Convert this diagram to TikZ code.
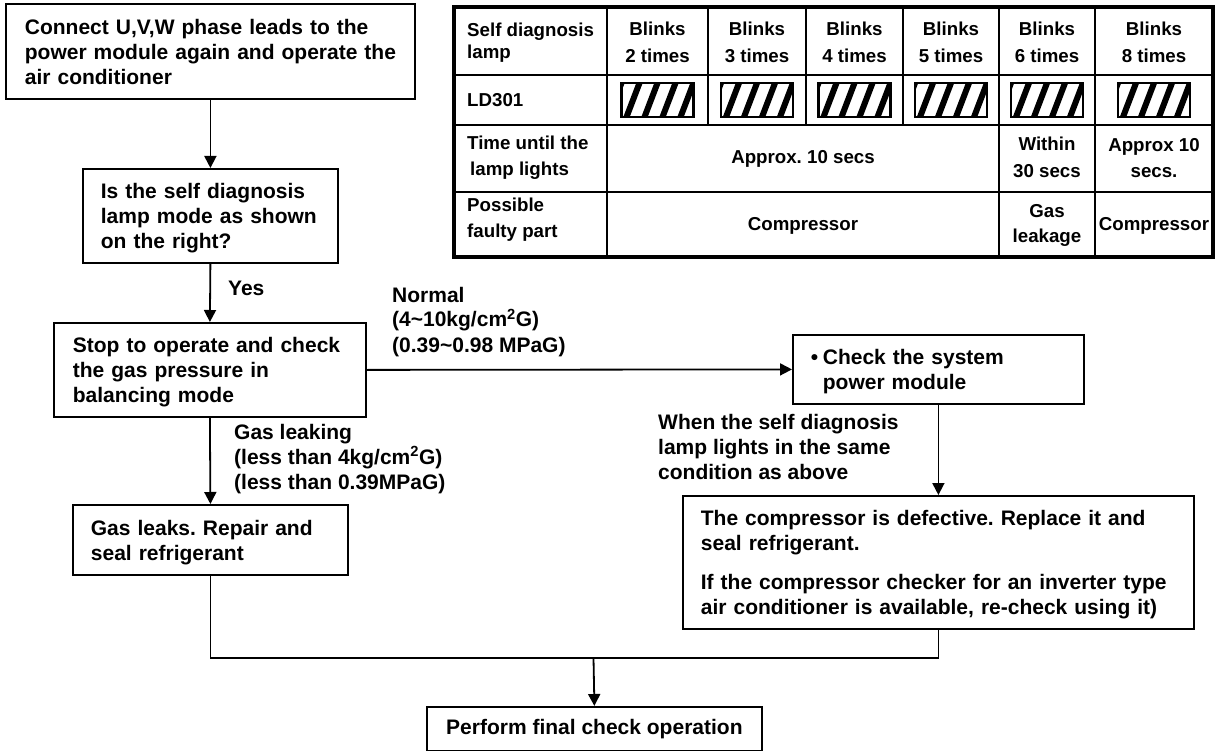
\documentclass[tikz,border=0pt]{standalone}
\usepackage{fontspec}
\setmainfont{Liberation Sans}
\usetikzlibrary{arrows.meta}
\frenchspacing
\newcommand\flowfont{\fontsize{21}{25}\selectfont\bfseries\frenchspacing}
\newcommand\tabfont{\fontsize{18.7}{24}\selectfont\bfseries\frenchspacing}
\newcommand\lines[1]{\begin{tabular}{@{}l@{}}\rule{0pt}{23.5pt}#1\end{tabular}}
\newcommand\hatchat[1]{%
  \begin{scope}
    \clip ({#1-36},83) rectangle ({#1+36},117);
    \foreach \i in {-1,...,4} \draw[line width=6pt] ({#1-36+5+18*\i},117) -- ({#1-36+5+18*\i+13},83);
  \end{scope}
  \draw[line width=2.5pt] ({#1-36},83) rectangle ({#1+36},117);
}
\begin{document}
\begin{tikzpicture}[x=1pt,y=-1pt,
  box/.style={draw, line width=1.8pt, fill=white, font=\flowfont, align=left, anchor=north west, inner ysep=0pt},
  lbl/.style={font=\flowfont, align=left, anchor=base west, inner sep=0pt},
  tcell/.style={font=\tabfont, align=center, anchor=base, inner sep=0pt},
  tleft/.style={font=\tabfont, align=left, anchor=base west, inner sep=0pt},
  arr/.style={line width=1.8pt, -{Triangle[length=12pt,width=12pt]}},
  ln/.style={line width=1.8pt}]
\useasboundingbox (0,0) rectangle (1215,751);

% ---------- flow boxes ----------
\node[box, inner xsep=19pt, text width=371pt, minimum height=95pt] (b1) at (5,3)
  {\lines{Connect U,V,W phase leads to the\\power module again and operate the\\air conditioner}};
\node[box, inner xsep=18pt, text width=219pt, minimum height=94pt] (b2) at (82,168)
  {\lines{Is the self diagnosis\\lamp mode as shown\\on the right?}};
\node[box, inner xsep=19pt, text width=274pt, minimum height=94pt] (b3) at (53,322)
  {\lines{Stop to operate and check\\the gas pressure in\\balancing mode}};
\node[box, inner xsep=18pt, text width=255pt, minimum height=69pt] (b4) at (792,334)
  {\lines{\makebox[12pt][l]{\textbullet}Check the system\\\hspace*{12pt}power module}};
\node[box, inner xsep=18pt, text width=475pt, minimum height=133pt] (b5) at (682,495)
  {\lines{The compressor is defective. Replace it and\\seal refrigerant.\\[14pt]If the compressor checker for an inverter type\\air conditioner is available, re-check using it)}};
\node[box, inner xsep=18pt, text width=239pt, minimum height=70pt] (b6) at (72,504)
  {\lines{Gas leaks. Repair and\\seal refrigerant}};
\node[box, inner xsep=0pt, minimum width=335pt, minimum height=44pt, align=center] (fin) at (426,706)
  {Perform final check operation};

% ---------- labels ----------
\node[lbl] (yes) at (228,295) {Yes};
\node[lbl] (normal) at (392,352) {Normal\\(4\textasciitilde 10kg/cm\textsuperscript{2}G)\\(0.39\textasciitilde 0.98 MPaG)};
\node[lbl] (leak) at (234,489) {Gas leaking\\(less than 4kg/cm\textsuperscript{2}G)\\(less than 0.39MPaG)};
\node[lbl] (same) at (658,479) {When the self diagnosis\\lamp lights in the same\\condition as above};

% ---------- connectors ----------
\draw[arr] (b1.south) -- (b2.north);
\draw[arr] (b2.south) -- (b3.north);
\draw[arr] (b3.east) -- (b4.west);
\draw[arr] (b3.south) -- (b6.north);
\draw[arr] (b4.south) -- (b5.north);
\coordinate (m) at (593.5,658);
\draw[ln] (b6.south) |- (m);
\draw[ln] (b5.south) |- (m);
\draw[arr] (m) -- (fin.north);

% ---------- table ----------
\draw[line width=1.6pt] (454,75) -- (1213,75) (454,125) -- (1213,125) (454,192) -- (1213,192);
\draw[line width=1.6pt] (607,7) -- (607,257) (999,7) -- (999,257) (1095,7) -- (1095,257);
\draw[line width=1.6pt] (708,7) -- (708,125) (806,7) -- (806,125) (903,7) -- (903,125);
\draw[line width=4.5pt] (454,7) rectangle (1213,257);

\node[tleft] (t11) at (467,59) {Self diagnosis\\[-2pt]lamp};
\node[tcell] (t12) at (657.5,63) {Blinks\\[3pt]2 times};
\node[tcell] (t13) at (757,63) {Blinks\\[3pt]3 times};
\node[tcell] (t14) at (854.5,63) {Blinks\\[3pt]4 times};
\node[tcell] (t15) at (951,63) {Blinks\\[3pt]5 times};
\node[tcell] (t16) at (1047,63) {Blinks\\[3pt]6 times};
\node[tcell] (t17) at (1154,63) {Blinks\\[3pt]8 times};
\node[tleft] (t21) at (467,107) {LD301};
\hatchat{657.5}\hatchat{757}\hatchat{854.5}\hatchat{951}\hatchat{1047}\hatchat{1154}
\node[tleft] (t31) at (467,176) {Time until the\\[2pt]\hspace*{3pt}lamp lights};
\node[tcell] (t32) at (803,164) {Approx. 10 secs};
\node[tcell] (t33) at (1047,178) {Within\\[3pt]30 secs};
\node[tcell] (t34) at (1154,178) {Approx 10\\[2pt]secs.};
\node[tleft] (t41) at (467,238) {Possible\\[2pt]faulty part};
\node[tcell] (t42) at (803,231) {Compressor};
\node[tcell] (t43) at (1047,243) {Gas\\[1pt]leakage};
\node[tcell] (t44) at (1154,231) {Compressor};
\end{tikzpicture}
\end{document}
